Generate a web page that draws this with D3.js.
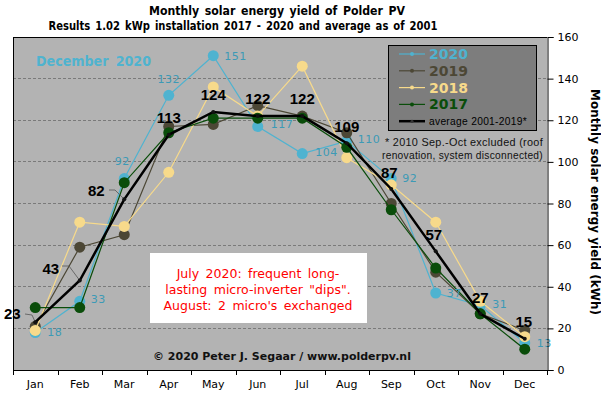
<!DOCTYPE html>
<html><head><meta charset="utf-8">
<script src="https://cdn.jsdelivr.net/npm/d3@7/dist/d3.min.js"></script>
<style>body{margin:0;background:#fff;}svg{display:block;font-family:"DejaVu Sans",Verdana,sans-serif;}</style>
</head><body><svg id="c" width="601" height="395"></svg>
<script>
const months = ["Jan","Feb","Mar","Apr","May","Jun","Jul","Aug","Sep","Oct","Nov","Dec"];
const y2020 = [18,33,92,132,151,117,104,110,92,37,31,13];
const y2019 = [21,59,65,117,118,127,122,114,80,47,27,19];
const y2018 = [19,71,69,95,136,122,146,102,89,71,33,16];
const y2017 = [30,30,90,114,121,121,121,107,77,49,27,10];
const avg   = [23,43,82,113,124,122,122,109,87,57,27,15];
const yTicks = [0,20,40,60,80,100,120,140,160];

const svg = d3.select("#c");
const L=13,R=547,T=37,B=370;
const x = d3.scaleBand().domain(months).range([L,R]);
const cx = m => x(m)+x.bandwidth()/2;
const y = d3.scaleLinear().domain([0,160]).range([B,T]);

function fit(sel,w){const n=sel.node();const l=n.getComputedTextLength();if(l>w){sel.attr("textLength",w).attr("lengthAdjust","spacingAndGlyphs");}return sel;}

// plot background
svg.append("rect").attr("x",L).attr("y",T).attr("width",R-L).attr("height",B-T).attr("fill","#b3b3b3");
// gridlines
svg.append("g").selectAll("line").data(yTicks.filter(v=>v>0&&v<160)).join("line")
 .attr("x1",L).attr("x2",R).attr("y1",d=>y(d)).attr("y2",d=>y(d))
 .attr("stroke","#7a7a7a").attr("stroke-width",1).attr("stroke-dasharray","3,2").attr("shape-rendering","crispEdges");
// borders
svg.append("line").attr("x1",L).attr("x2",R).attr("y1",T+0.5).attr("y2",T+0.5).attr("stroke","#000");
svg.append("line").attr("x1",L+0.5).attr("x2",L+0.5).attr("y1",T).attr("y2",B).attr("stroke","#000");

// annotation box
svg.append("rect").attr("x",150).attr("y",253).attr("width",217).attr("height",70).attr("fill","#fff");
const ann=["July 2020: frequent long-","lasting micro-inverter \"dips\".","August: 2 micro's exchanged"];
ann.forEach((t,i)=>{svg.append("text").attr("x",258).attr("y",[278,294,310][i]).attr("text-anchor","middle")
 .attr("font-size",12.5).attr("fill","#ff0000").style("word-spacing","2.5px").text(t);});

// copyright
fit(svg.append("text").attr("x",153).attr("y",360).attr("font-size",11).attr("font-weight","bold").attr("fill","#111")
 .text("© 2020 Peter J. Segaar / www.polderpv.nl"),259);

// December 2020
fit(svg.append("text").attr("x",36).attr("y",66).attr("font-size",14).attr("font-weight","bold").attr("fill","#4fb3cf")
 .style("word-spacing","3px").text("December 2020"),115);

// footnote
fit(svg.append("text").attr("x",385).attr("y",146).attr("font-family","'Liberation Sans',Arial,sans-serif").attr("font-size",11).attr("fill","#111").style("letter-spacing","0.3px").text("* 2010 Sep.-Oct excluded (roof"),158);
fit(svg.append("text").attr("x",382).attr("y",159).attr("font-family","'Liberation Sans',Arial,sans-serif").attr("font-size",11).attr("fill","#111").style("letter-spacing","0.3px").text("renovation, system disconnected)"),161);

const series=[
 {name:"2020",data:y2020,color:"#4fb3d0",text:"#4fb3cf"},
 {name:"2019",data:y2019,color:"#4c4735",text:"#4c4735"},
 {name:"2018",data:y2018,color:"#f7da8b",text:"#f7da8b"},
 {name:"2017",data:y2017,color:"#0a4d0a",text:"#0a4d0a"}
];
const line=d3.line().x((d,i)=>cx(months[i])).y(d=>y(d));
series.forEach(s=>{
 const g=svg.append("g");
 g.append("path").attr("d",line(s.data)).attr("fill","none").attr("stroke",s.color).attr("stroke-width",1.2);
 g.selectAll("circle").data(s.data).join("circle").attr("cx",(d,i)=>cx(months[i])).attr("cy",d=>y(d)).attr("r",5.5).attr("fill",s.color);
});

// leader lines for Jan-Mar avg labels
const leaders=[[0,[[25,314],[32,315]]],[1,[[62,266],[69,266]]],[2,[[109,190],[115,190]]]];
leaders.forEach(([i,pts])=>{
 const p=pts.concat([[cx(months[i]),y(avg[i])]]);
 svg.append("path").attr("d",d3.line()(p)).attr("fill","none").attr("stroke","#555").attr("stroke-width",0.8);
});

// average
svg.append("path").attr("d",line(avg)).attr("fill","none").attr("stroke","#000").attr("stroke-width",2.5);
svg.append("g").selectAll("circle").data(avg).join("circle").attr("cx",(d,i)=>cx(months[i])).attr("cy",d=>y(d)).attr("r",2).attr("fill","#111");

// 2020 labels
const lab20=[[12,3,"start"],[11,2,"start"],[-2,-14,"middle"],[0,-12,"middle"],[11,4,"start"],[13,2,"start"],[13,2,"start"],[11,2,"start"],[11,3,"start"],[11,4,"start"],[12,3,"start"],[12,4,"start"]];
svg.append("g").selectAll("text").data(y2020).join("text")
 .attr("x",(d,i)=>cx(months[i])+lab20[i][0]).attr("y",(d,i)=>y(d)+lab20[i][1]).attr("text-anchor",(d,i)=>lab20[i][2])
 .attr("font-size",11).attr("fill","#3c9ab6").style("letter-spacing","0.5px").text(d=>d);

// average labels
const labAvg=[[-23,-3],[-29,-7],[-28,-3],[0,-12],[0,-12],[0,-12],[0,-12],[0,-11],[-2,-11],[-2,-11],[0,-11],[-1,-12]];
svg.append("g").selectAll("text").data(avg).join("text")
 .attr("x",(d,i)=>cx(months[i])+labAvg[i][0]).attr("y",(d,i)=>y(d)+labAvg[i][1]).attr("text-anchor","middle")
 .attr("font-family","'Liberation Sans',Arial,sans-serif").attr("font-weight","bold").attr("font-size",15).attr("fill","#000").text(d=>d);

// x axis
svg.append("line").attr("x1",L).attr("x2",R).attr("y1",B+0.5).attr("y2",B+0.5).attr("stroke","#000");
svg.append("g").selectAll("line").data(months.map(m=>x(m)).concat([R])).join("line")
 .attr("x1",d=>Math.round(d)+0.5).attr("x2",d=>Math.round(d)+0.5).attr("y1",B).attr("y2",B+5).attr("stroke","#000");
svg.append("g").selectAll("text").data(months).join("text").attr("x",m=>cx(m)).attr("y",388).attr("text-anchor","middle")
 .attr("font-size",11).attr("fill","#000").text(m=>m);

// right axis
const ay=svg.append("g").attr("transform",`translate(${R+0.5},0)`).call(d3.axisRight(y).tickValues(yTicks).tickSize(6).tickPadding(4));
ay.select(".domain").attr("stroke","#000");
ay.selectAll("text").attr("font-size",11).attr("font-family","'DejaVu Sans',Verdana,sans-serif").attr("fill","#000");

// y title
svg.append("text").attr("transform","translate(591,202) rotate(90)").attr("text-anchor","middle")
 .attr("font-size",12).attr("font-weight","bold").attr("fill","#000").text("Monthly solar energy yield (kWh)");

// legend
svg.append("rect").attr("x",388.5).attr("y",45.5).attr("width",148).attr("height",85).attr("fill","#7d7d7d").attr("stroke","#000");
const leg=series.concat([{name:"average 2001-2019*",color:"#000",text:"#000",avg:true}]);
leg.forEach((s,i)=>{
 const yy=54+i*16.8;
 svg.append("line").attr("x1",399).attr("x2",425).attr("y1",yy).attr("y2",yy).attr("stroke",s.color).attr("stroke-width",s.avg?2.5:1.2);
 svg.append("circle").attr("cx",412).attr("cy",yy).attr("r",s.avg?1.5:2).attr("fill",s.avg?"#333":s.color);
 const t=svg.append("text").attr("x",429).attr("y",yy+(s.avg?4:5)).attr("fill",s.text).text(s.name);
 if(s.avg){t.attr("font-size",10.5).attr("font-family","'Liberation Sans',Arial,sans-serif").style("letter-spacing","0.3px");fit(t,98);}
 else t.attr("font-size",14).attr("font-weight","bold");
});

// titles
fit(svg.append("text").attr("x",277).attr("y",15).attr("text-anchor","middle").attr("font-size",13).attr("font-weight","bold").attr("fill","#000")
 .style("word-spacing","2px").text("Monthly solar energy yield of Polder PV"),256);
fit(svg.append("text").attr("x",243).attr("y",30).attr("text-anchor","middle").attr("font-size",13).attr("font-weight","bold").attr("fill","#000")
 .style("word-spacing","2px").text("Results 1.02 kWp installation 2017 - 2020 and average as of 2001"),389);
</script></body></html>
